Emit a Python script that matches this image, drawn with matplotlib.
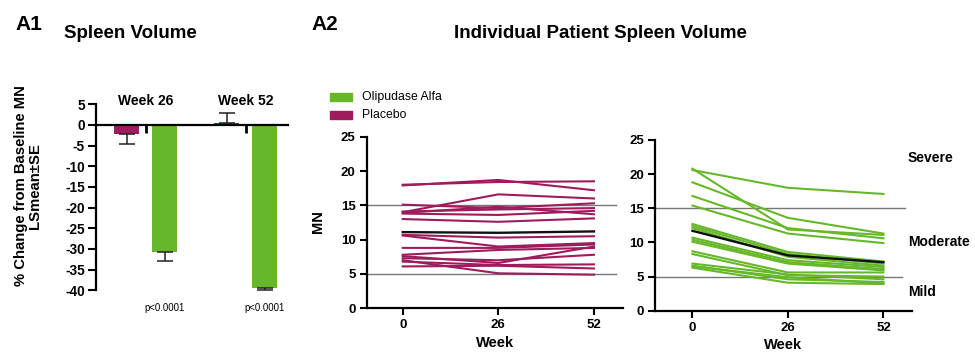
import matplotlib
matplotlib.use("Agg")
import matplotlib.pyplot as plt
from matplotlib.patches import Rectangle

plt.rcParams['font.family'] = ['Liberation Sans', 'DejaVu Sans']

# ---------------- Data ----------------
weeks_bar = ["Week 26", "Week 52"]
placebo_mean = [-2.3, 0.4]
placebo_se = [2.3, 2.6]
olipudase_mean = [-30.7, -39.4]
olipudase_se = [2.2, 0.5]
p_values = ["p<0.0001", "p<0.0001"]

weeks = [0, 26, 52]
placebo_patients = [
    [18.0, 18.4, 18.5],
    [17.9, 18.7, 17.2],
    [14.0, 16.6, 16.0],
    [15.1, 14.6, 15.3],
    [14.1, 14.4, 14.6],
    [13.9, 14.8, 13.7],
    [13.8, 13.6, 14.2],
    [13.0, 12.6, 13.1],
    [10.7, 10.3, 10.5],
    [10.6, 9.0, 9.5],
    [8.8, 8.8, 9.3],
    [7.8, 8.5, 8.8],
    [7.6, 6.6, 9.0],
    [7.3, 7.0, 7.8],
    [6.8, 6.3, 6.4],
    [6.1, 6.2, 5.8],
    [7.0, 5.1, 4.9],
]
placebo_mean_line = [11.1, 11.0, 11.2]

olipudase_patients = [
    [20.6, 18.0, 17.1],
    [20.8, 11.9, 11.1],
    [18.8, 13.6, 11.3],
    [16.8, 12.1, 10.6],
    [15.4, 11.3, 9.9],
    [12.7, 8.6, 7.2],
    [12.4, 8.3, 6.9],
    [12.1, 7.9, 6.6],
    [10.7, 7.4, 6.4],
    [10.4, 7.1, 6.1],
    [10.1, 6.9, 5.9],
    [8.7, 5.6, 5.6],
    [8.3, 5.2, 5.0],
    [6.9, 5.3, 4.6],
    [6.6, 4.6, 4.2],
    [6.3, 4.1, 3.9],
    [6.5, 4.9, 4.0],
]
olipudase_mean_line = [11.7, 8.1, 7.1]

severity_labels = ["Severe", "Moderate", "Mild"]
severity_y = [22.3, 10.1, 2.8]
thresholds = [15, 5]

GREEN = "#66b82a"
PURPLE = "#9e1b5c"

W, H = 975, 359
fig = plt.figure(figsize=(W / 100, H / 100), dpi=100)

def fx(px):
    return px / W

def fy(py):
    return 1 - py / H

# ---------------- A1 bar chart ----------------
ax1 = fig.add_axes([fx(96), fy(290.3), fx(288.3 - 96), (290.3 - 104.3) / H])
xpos = [0, 1]
off = 0.19
bw = 0.245
for i in xpos:
    ax1.bar(i - off, placebo_mean[i], width=bw, color=PURPLE, zorder=2)
    ax1.bar(i + off, olipudase_mean[i], width=bw, color=GREEN, zorder=2)
    lo = placebo_se[i] if placebo_mean[i] < 0 else 0
    up = placebo_se[i] if placebo_mean[i] >= 0 else 0
    ax1.errorbar(i - off, placebo_mean[i], yerr=[[lo], [up]], color="#222222",
                 capsize=6, elinewidth=1.1, capthick=1.1, zorder=3)
    ax1.errorbar(i + off, olipudase_mean[i], yerr=[[olipudase_se[i]], [0]], color="#222222",
                 capsize=6, elinewidth=1.1, capthick=1.1, zorder=3)
    ax1.text(i, 4.9, weeks_bar[i], ha="center", va="baseline", fontsize=10, fontweight="bold")
    ax1.text(i + off, -44.3, p_values[i], ha="center", va="center", fontsize=6.9)

ax1.set_xlim(-0.497, 1.427)
ax1.set_ylim(-40, 5)
ax1.set_yticks(range(-40, 6, 5))
ax1.set_yticklabels([str(v) for v in range(-40, 6, 5)], fontweight="bold", fontsize=9.8)
ax1.set_xticks(xpos)
ax1.set_xticklabels(["", ""])
ax1.spines['bottom'].set_position(('data', 0))
ax1.spines['top'].set_visible(False)
ax1.spines['right'].set_visible(False)
for s in ['left', 'bottom']:
    ax1.spines[s].set_linewidth(1.6)
ax1.tick_params(axis='y', direction='out', length=6, width=1.5, pad=2)
ax1.tick_params(axis='x', direction='out', length=6, width=2)
ax1.set_ylabel("% Change from Baseline MN\nLSmean±SE", fontsize=10.7, fontweight="bold",
               linespacing=1.0)
ax1.yaxis.set_label_coords(-0.282, 0.561)

fig.text(fx(15), fy(25), "A1", fontsize=15, fontweight="bold", va="center", ha="left")
fig.text(fx(64), fy(34), "Spleen Volume", fontsize=13.5, fontweight="bold", va="center", ha="left")
fig.text(fx(311), fy(25), "A2", fontsize=15, fontweight="bold", va="center", ha="left")
fig.text(fx(600), fy(34), "Individual Patient Spleen Volume", fontsize=13.5, fontweight="bold",
         va="center", ha="center")

# ---------------- Legend ----------------
fig.patches.append(Rectangle((fx(330), fy(100.7)), fx(22), 8 / H, transform=fig.transFigure,
                             color=GREEN))
fig.patches.append(Rectangle((fx(330), fy(119.3)), fx(22), 8 / H, transform=fig.transFigure,
                             color=PURPLE))
fig.text(fx(362), fy(96.7), "Olipudase Alfa", fontsize=8.8, va="center", ha="left")
fig.text(fx(362), fy(115.3), "Placebo", fontsize=8.8, va="center", ha="left")

# ---------------- A2 line panels ----------------
def style_line_ax(ax, xlim):
    ax.set_xlim(*xlim)
    ax.set_ylim(0, 25)
    ax.set_xticks(weeks)
    ax.set_xticklabels([str(w) for w in weeks], fontweight="bold", fontsize=9.5)
    ax.set_yticks(range(0, 26, 5))
    ax.set_yticklabels([str(v) for v in range(0, 26, 5)], fontweight="bold", fontsize=9.5)
    ax.spines['top'].set_visible(False)
    ax.spines['right'].set_visible(False)
    for s in ['left', 'bottom']:
        ax.spines[s].set_linewidth(1.6)
    ax.tick_params(direction='out', length=5, width=1.5, pad=3)
    ax.set_xlabel("Week", fontsize=10.5, fontweight="bold", labelpad=3)

ax2 = fig.add_axes([fx(366.7), fy(308.3), fx(623 - 366.7), (308.3 - 136.7) / H])
for t in thresholds:
    ax2.plot([-9.8, 58.0], [t, t], color="#777777", lw=1.0, zorder=1, clip_on=False)
for pts in placebo_patients:
    ax2.plot(weeks, pts, color=PURPLE, lw=1.5, zorder=2)
ax2.plot(weeks, placebo_mean_line, color="#111111", lw=1.7, zorder=3)
style_line_ax(ax2, (-9.8, 59.9))
ax2.set_ylabel("MN", fontsize=10.5, fontweight="bold")
ax2.yaxis.set_label_coords(-0.163, 0.505)

ax3 = fig.add_axes([fx(655), fy(310.7), fx(911.7 - 655), (310.7 - 140) / H])
ax3.plot([-10.2, 58.0], [15, 15], color="#777777", lw=1.0, zorder=1, clip_on=False)
ax3.plot([-10.2, 57.0], [5, 5], color="#777777", lw=1.0, zorder=1, clip_on=False)
for pts in olipudase_patients:
    ax3.plot(weeks, pts, color=GREEN, lw=1.5, zorder=2)
ax3.plot(weeks, olipudase_mean_line, color="#111111", lw=1.7, zorder=3)
style_line_ax(ax3, (-10.2, 59.7))
for lab, yv in zip(severity_labels, severity_y):
    ax3.text(58.6, yv, lab, fontsize=10, fontweight="bold", va="center", ha="left",
             clip_on=False)

fig.savefig("out.png", dpi=100)
